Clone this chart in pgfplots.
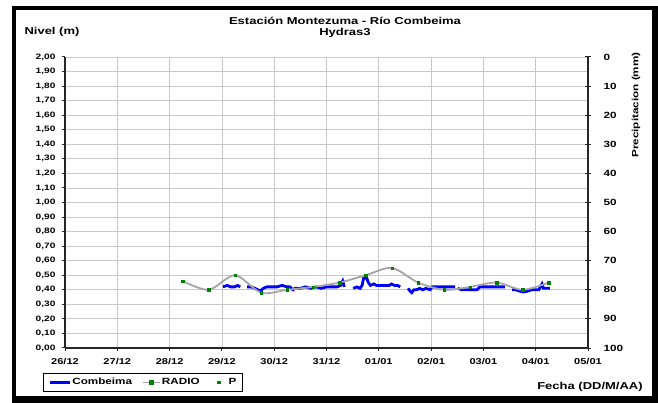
\documentclass[border=0pt]{standalone}
\usepackage{fontspec}
\setmainfont{Liberation Sans}[FakeStretch=1.3]
\usepackage{pgfplots}
\pgfplotsset{compat=1.18}
\definecolor{radiogray}{RGB}{165,165,165}
\definecolor{ptgreen}{RGB}{0,128,0}
\definecolor{gridgray}{RGB}{200,200,200}
\begin{document}
\begin{tikzpicture}[x=1pt,y=1pt]
\fill[white] (0,0) rectangle (658,403);
\fill[black] (12,0) rectangle (658,397);
\fill[white] (16,7) rectangle (652,393);
\begin{axis}[at={(65pt,55pt)}, anchor=south west, scale only axis,
  width=523pt, height=291pt,
  xmin=0, xmax=10, ymin=0, ymax=2,
  axis x line*=bottom, axis y line*=left,
  axis line style={black!85, line width=1.2pt, -},
  xtick={0,1,2,3,4,5,6,7,8,9,10},
  xticklabels={26/12,27/12,28/12,29/12,30/12,31/12,01/01,02/01,03/01,04/01,05/01},
  ytick={0,0.1,0.2,0.3,0.4,0.5,0.6,0.7,0.8,0.9,1.0,1.1,1.2,1.3,1.4,1.5,1.6,1.7,1.8,1.9,2.0},
  grid=major, major grid style={gridgray, line width=0.8pt},
  tick style={black!85, line width=1pt}, major tick length=3pt, tick align=outside,
  yticklabel style={font=\fontsize{7.8}{9}\selectfont\bfseries, xshift=-3pt,
    /pgf/number format/fixed, /pgf/number format/fixed zerofill,
    /pgf/number format/precision=2, /pgf/number format/use comma,
    /pgf/number format/assume math mode=true},
  xticklabel style={font=\fontsize{8.5}{10}\selectfont\bfseries, yshift=-4pt},
  unbounded coords=jump,
  legend columns=3,
  legend style={at={(axis description cs:-0.042,-0.151)}, anchor=south west,
    draw=black, line width=1pt, font=\fontsize{9}{10}\selectfont\bfseries,
    inner xsep=5pt, inner ysep=3pt,
    /tikz/every even column/.append style={column sep=9pt},
    nodes={inner xsep=1pt}},
]
\addplot[blue, line width=2.8pt,
  legend image code/.code={\draw[blue, line width=2.8pt] (0pt,0pt) -- (20pt,0pt);}] coordinates {
(3.02,0.42) (3.10,0.43) (3.17,0.42) (3.24,0.42) (3.30,0.43) (3.35,0.42) (3.36,nan)
(3.48,0.42) (3.56,0.42) (3.63,0.41) (3.69,0.40) (3.73,0.39) (3.79,0.41) (3.86,0.42) (3.95,0.42) (4.05,0.42) (4.15,0.43) (4.25,0.42) (4.30,0.42) (4.33,0.41) (4.36,0.40) (4.40,0.41) (4.50,0.41) (4.60,0.42) (4.70,0.41) (4.80,0.42) (4.90,0.41) (5.00,0.42) (5.10,0.42) (5.20,0.42) (5.27,0.43) (5.31,0.46) (5.34,0.42) (5.35,nan)
(5.51,0.41) (5.58,0.42) (5.64,0.41) (5.68,0.43) (5.71,0.48) (5.77,0.48) (5.80,0.45) (5.84,0.43) (5.90,0.44) (5.96,0.43) (6.04,0.43) (6.12,0.43) (6.20,0.43) (6.24,0.44) (6.30,0.43) (6.36,0.43) (6.41,0.42) (6.42,nan)
(6.56,0.41) (6.60,0.39) (6.63,0.38) (6.67,0.40) (6.72,0.40) (6.78,0.41) (6.84,0.40) (6.90,0.41) (6.98,0.40) (7.02,0.42) (7.12,0.42) (7.22,0.42) (7.32,0.42) (7.40,0.42) (7.46,0.42) (7.47,nan)
(7.51,0.41) (7.58,0.40) (7.68,0.40) (7.78,0.40) (7.88,0.40) (7.93,0.42) (8.02,0.42) (8.12,0.42) (8.22,0.42) (8.32,0.42) (8.41,0.42) (8.42,nan)
(8.55,0.40) (8.62,0.40) (8.70,0.39) (8.76,0.385) (8.84,0.39) (8.92,0.40) (9.00,0.40) (9.06,0.40) (9.09,0.42) (9.12,0.44) (9.15,0.41) (9.21,0.41) (9.27,0.41)
};
\addlegendentry{Combeima}
\addplot[radiogray, line width=1.8pt, smooth, mark=square*, mark size=1.2pt,
  mark options={draw=ptgreen, fill=ptgreen, solid, line width=0.3pt},
  legend image code/.code={\draw[radiogray, line width=1.8pt] (0pt,0pt) -- (17pt,0pt);
    \fill[ptgreen] (7.3pt,-1.3pt) rectangle (9.7pt,1.3pt);}] coordinates {
(2.25,0.46) (2.75,0.40) (3.25,0.50) (3.75,0.38) (4.25,0.40) (4.75,0.42) (5.25,0.45) (5.75,0.50) (6.25,0.55) (6.75,0.45) (7.25,0.40) (7.75,0.42) (8.25,0.45) (8.75,0.40) (9.25,0.45)
};
\addlegendentry{RADIO}
\addlegendimage{legend image code/.code={\fill[white, opacity=0] (0pt,-0.1pt) rectangle (17pt,0.1pt);
    \fill[ptgreen] (7.8pt,-1.3pt) rectangle (10.2pt,1.3pt);}}
\addlegendentry{P}
\end{axis}
\begin{axis}[at={(65pt,55pt)}, anchor=south west, scale only axis,
  width=523pt, height=291pt,
  xmin=0, xmax=10, ymin=0, ymax=100, y dir=reverse,
  axis x line=none, axis y line*=right,
  axis line style={black!85, line width=1.2pt, -},
  ytick={0,10,20,30,40,50,60,70,80,90,100},
  tick style={black!85, line width=1pt}, major tick length=6pt, tick align=center,
  yticklabel style={font=\fontsize{9}{10}\selectfont\bfseries, xshift=9pt,
    /pgf/number format/assume math mode=true},
]
\addplot[draw=none] coordinates {(0,0) (10,100)};
\end{axis}
\node[font=\fontsize{10}{11}\selectfont\bfseries, align=center] at (345,375.5) {Estación Montezuma - Río Combeima\\Hydras3};
\node[anchor=west, font=\fontsize{10}{12}\selectfont\bfseries] at (21,371) {Nivel (m)};
\node[rotate=90, font=\fontsize{9}{11}\selectfont\bfseries] at (636,298) {Precipitacion (mm)};
\node[font=\fontsize{10}{12}\selectfont\bfseries] at (590,16) {Fecha (DD/M/AA)};
\end{tikzpicture}
\end{document}
